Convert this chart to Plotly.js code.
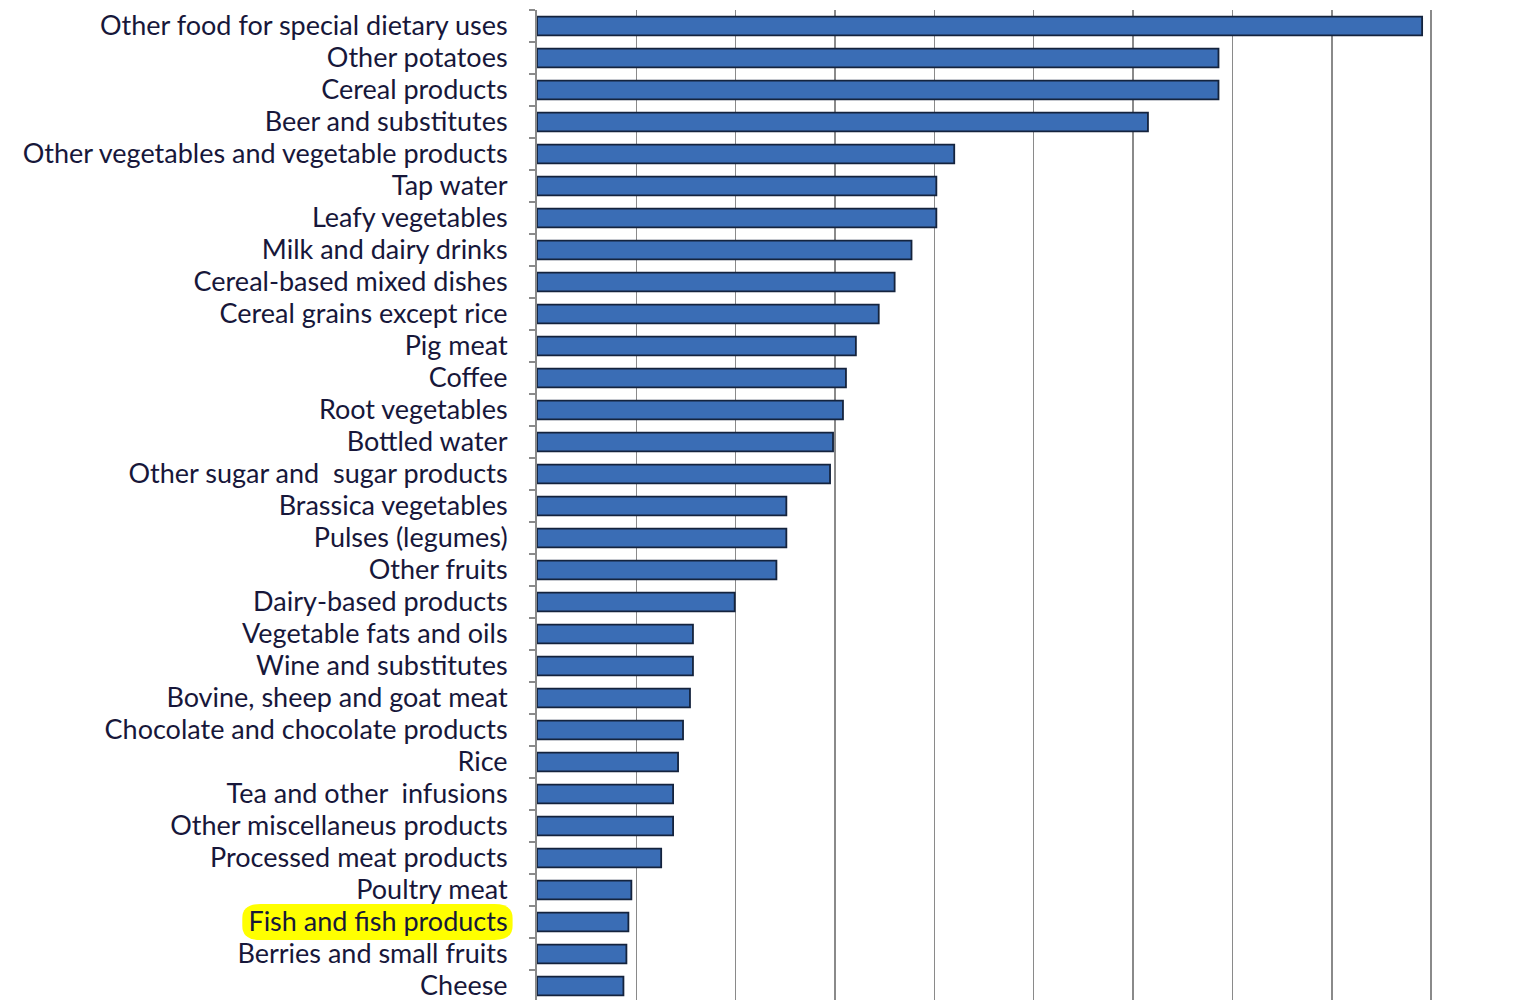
<!DOCTYPE html>
<html>
<head>
<meta charset="utf-8">
<script src="https://cdn.plot.ly/plotly-3.0.1.min.js"></script>
<style>html,body{margin:0;padding:0;background:#fff;}#chart{width:1518px;height:1000px;}</style>
</head>
<body>
<div id="chart"></div>
<script>
var categories = [
  "Other food for special dietary uses",
  "Other potatoes",
  "Cereal products",
  "Beer and substitutes",
  "Other vegetables and vegetable products",
  "Tap water",
  "Leafy vegetables",
  "Milk and dairy drinks",
  "Cereal-based mixed dishes",
  "Cereal grains except rice",
  "Pig meat",
  "Coffee",
  "Root vegetables",
  "Bottled water",
  "Other sugar and  sugar products",
  "Brassica vegetables",
  "Pulses (legumes)",
  "Other fruits",
  "Dairy-based products",
  "Vegetable fats and oils",
  "Wine and substitutes",
  "Bovine, sheep and goat meat",
  "Chocolate and chocolate products",
  "Rice",
  "Tea and other  infusions",
  "Other miscellaneus products",
  "Processed meat products",
  "Poultry meat",
  "Fish and fish products",
  "Berries and small fruits",
  "Cheese"
];
var values = [8.91, 6.86, 6.86, 6.15, 4.20, 4.02, 4.02, 3.77, 3.60, 3.44, 3.21, 3.11, 3.08, 2.98, 2.95,
  2.51, 2.51, 2.41, 1.99, 1.57, 1.57, 1.54, 1.47, 1.42, 1.37, 1.37, 1.25, 0.95, 0.92, 0.90, 0.87];
var highlighted = "Fish and fish products";

var hi = categories.indexOf(highlighted);
var plotH = 990, band = 32;
var yc = 1 - (band/2 + band*hi)/plotH;
var hh = 18/plotH;
var x0 = -0.326, x1 = -0.027, r = 0.02, ry = 14/plotH;
var hlPath = 'M' + (x0 + r) + ',' + (yc + hh) +
  ' L' + (x1 - r) + ',' + (yc + hh) +
  ' Q' + x1 + ',' + (yc + hh) + ' ' + x1 + ',' + (yc + hh - ry) +
  ' L' + x1 + ',' + (yc - hh + ry) +
  ' Q' + x1 + ',' + (yc - hh) + ' ' + (x1 - r) + ',' + (yc - hh) +
  ' L' + (x0 + r) + ',' + (yc - hh) +
  ' Q' + x0 + ',' + (yc - hh) + ' ' + x0 + ',' + (yc - hh + ry) +
  ' L' + x0 + ',' + (yc + hh - ry) +
  ' Q' + x0 + ',' + (yc + hh) + ' ' + (x0 + r) + ',' + (yc + hh) + ' Z';

var trace = {
  type: 'bar',
  orientation: 'h',
  y: categories,
  x: values,
  marker: {color: '#3a6db5', line: {color: '#14233d', width: 1.8}},
  width: 0.58,
  hoverinfo: 'x+y'
};

var fontFam = 'Lato, "Open Sans", sans-serif';
var layout = {
  width: 1518, height: 1000,
  margin: {l: 537, r: 77, t: 10, b: 0, pad: 0},
  paper_bgcolor: '#ffffff', plot_bgcolor: '#ffffff',
  showlegend: false,
  font: {family: fontFam, size: 27, color: '#17173a'},
  xaxis: {
    range: [0, 9.1], dtick: 1, tick0: 0,
    showgrid: true, gridcolor: '#8a8a8a', gridwidth: 1.6,
    zeroline: false, showticklabels: false, ticks: '',
    showline: false, fixedrange: true
  },
  yaxis: {
    type: 'category',
    range: [-0.5 + plotH/band, -0.5],
    showgrid: false, zeroline: false,
    showline: true, linecolor: '#8a8a8a', linewidth: 2,
    ticks: 'outside', ticklen: 6, tickcolor: '#8a8a8a', tickwidth: 2,
    tickson: 'boundaries',
    ticklabelstandoff: 22,
    tickfont: {family: fontFam, size: 27, color: '#17173a'},
    fixedrange: true
  },
  shapes: [{
    type: 'path', xref: 'paper', yref: 'paper', layer: 'below',
    path: hlPath,
    fillcolor: '#ffff00', line: {width: 0}
  }]
};

Plotly.newPlot('chart', [trace], layout, {displayModeBar: false, staticPlot: true});
</script>
</body>
</html>
